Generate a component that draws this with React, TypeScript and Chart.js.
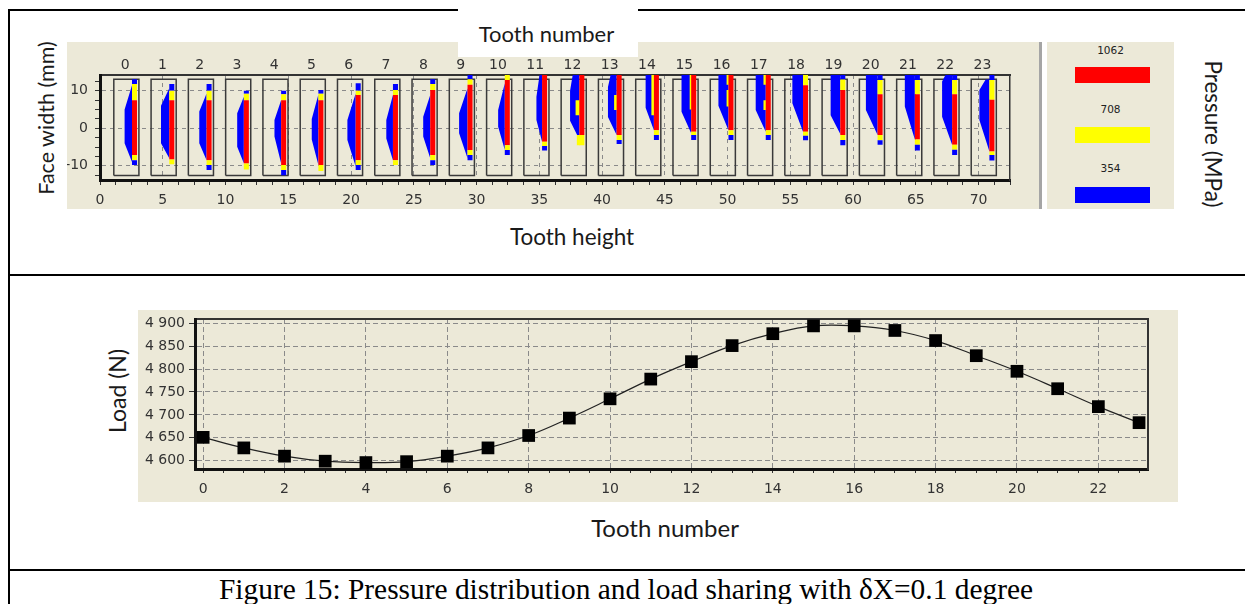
import React, { useEffect, useRef } from "react";
import { Chart, registerables } from "chart.js";

Chart.register(...registerables);

// ---------------- data ----------------
const TOOTH_NUMBERS = [0, 1, 2, 3, 4, 5, 6, 7, 8, 9, 10, 11, 12, 13, 14, 15, 16, 17, 18, 19, 20, 21, 22, 23];

// load sharing (N) per tooth
const LOAD_N = [4651, 4628, 4610, 4599, 4596, 4598, 4610, 4628, 4655, 4693, 4735, 4778, 4816, 4851, 4877, 4894, 4894, 4884, 4862, 4829, 4795, 4757, 4718, 4683];

// axis tick labels
const TOOTH_HEIGHT_LABELS = [0, 5, 10, 15, 20, 25, 30, 35, 40, 45, 50, 55, 60, 65, 70];
const TOOTH_HEIGHT_MINOR = 1.25;
const FACE_WIDTH_LABELS = [-10, 0, 10];
const FACE_WIDTH_MINOR = 2.5;
const LOAD_LABELS = [4600, 4650, 4700, 4750, 4800, 4850, 4900];
const TOOTH_AXIS_LABELS = [0, 2, 4, 6, 8, 10, 12, 14, 16, 18, 20, 22];
const TOOTH_AXIS_MINOR = 0.5;

// pressure legend levels (MPa)
const PRESSURE_LEVELS = [1062, 708, 354];

// contact strip per tooth (face width, mm): blue cap / yellow / red / yellow / blue cap
const CAP_TOP = [13.1, 11.8, 11.8, 10.0, 10.0, 10.2, 12.0, 11.8, 13.1, 14.2, 14.2, 14.2, 14.2, 14.2, 14.2, 14.2, 14.2, 14.2, 14.2, 14.2, 14.2, 14.2, 14.2, 14.2];
const YEL_TOP = [11.8, 10.0, 10.0, 9.2, 9.1, 9.2, 10.0, 10.2, 11.8, 13.1, 14.2, 14.2, 14.2, 14.2, 14.2, 14.2, 14.2, 14.2, 14.2, 13.0, 12.9, 12.9, 12.9, 12.9];
const RED_TOP = [7.5, 7.5, 7.5, 7.5, 7.5, 7.5, 8.9, 8.9, 10.2, 11.6, 12.9, 14.2, 14.2, 14.2, 14.2, 14.2, 14.2, 14.2, 11.5, 10.2, 9.1, 9.1, 9.1, 7.6];
const RED_BOT = [-7.1, -8.3, -8.5, -9.4, -9.8, -9.8, -8.5, -8.5, -7.1, -5.8, -4.5, -3.6, -1.8, -1.8, -0.5, -0.9, -0.5, -0.5, -0.9, -1.8, -1.8, -3.0, -4.4, -6.2];
const YEL_BOT = [-8.5, -9.6, -9.8, -11.0, -11.1, -11.4, -9.8, -9.8, -8.5, -7.1, -5.8, -4.7, -4.5, -3.1, -1.8, -1.8, -1.8, -1.8, -2.0, -3.1, -3.2, -4.4, -5.7, -7.1];
const CAP_BOT = [-9.8, -9.6, -11.1, -11.0, -12.5, -11.4, -11.1, -9.8, -9.8, -8.5, -7.1, -5.9, -4.5, -4.2, -3.1, -3.1, -3.1, -3.1, -3.2, -4.5, -4.4, -5.9, -7.1, -8.6];

// low-pressure (blue) zone left of the strip, per tooth
const LENS_TOP = [11.5, 10.7, 9.3, 8.4, 7.5, 9.0, 9.3, 8.9, 8.9, 10.7, 12.0, 14.2, 14.2, 14.2, 14.2, 14.2, 14.2, 14.2, 14.2, 14.2, 14.2, 14.2, 14.2, 13.0];
const LENS_TOP_W = [0, 0, 0, 0, 0, 0, 0, 0, 0, 0, 0, 0.2, 0.53, 0.48, 0.66, 0.77, 0.8, 0.8, 0.85, 0.77, 0.93, 0.8, 0.53, 0.3];
const LENS_MAX_TOP = [5, 6, 4.5, 4, 2.2, 2.5, 2.2, 2.2, 3.1, 4, 4.9, 8.4, 10, 11, 14.2, 14.2, 14.2, 14.2, 14.2, 14.2, 14.2, 14.2, 12.5, 10.2];
const LENS_MAX_BOT = [-4, -4, -4, -4.9, -2.2, -3, -3.1, -2.7, -2.2, -1.3, 0.4, 2.2, 2, 3, 5.5, 4.4, 6, 4.9, 6.7, 3.5, 4.9, 5.8, 3.1, 2.2];
const LENS_BOT = [-9, -8, -8.5, -9.3, -9.3, -9.8, -10.2, -8.5, -8, -8, -5.8, -3.6, -3, -1.8, -0.5, -1.3, -0.5, -0.9, -0.9, -1.5, -1.8, -3.0, -4.4, -6.2];
const LENS_W = [0.59, 0.66, 0.58, 0.53, 0.53, 0.53, 0.66, 0.53, 0.56, 0.67, 0.53, 0.45, 0.74, 0.69, 0.66, 0.77, 0.8, 0.8, 0.85, 0.77, 0.93, 0.8, 0.8, 0.8];

// extra yellow patches beside the strip
const MID_TOOTH = [12, 12, 13, 14, 15, 16, 16, 17, 17];
const MID_TOP = [7.5, -1.8, 8.9, 14.2, 14.2, 14.2, 10.2, 14.2, 7.5];
const MID_BOT = [3.5, -4.5, 4.9, 3.5, 5.0, 11.6, 5.8, 11.6, 4.9];
const MID_W = [0.3, 0.2, 0.2, 0.2, 0.12, 0.15, 0.15, 0.18, 0.18];

// ---------------- geometry / style ----------------
const PITCH = 2.97;
const BOX_X0 = 1.1;
const BOX_W = 2.0;
const BOX_TOP = 13.1;
const BOX_BOT = -12.6;
const STRIP_X0 = 2.55;
const STRIP_W = 0.4;
const LABEL_X0 = 2.0;

const BEIGE = "#ECE9D8";
const RED = "#FF0000";
const YELLOW = "#FFFF00";
const BLUE = "#0000FF";
const TICK_FONT = { family: "DejaVu Sans", size: 14 };
const TICK_COLOR = "#333";

function rect(x0: number, x1: number, y0: number, y1: number) {
  return [
    { x: x0, y: y0 },
    { x: x1, y: y0 },
    { x: x1, y: y1 },
    { x: x0, y: y1 },
    { x: x0, y: y0 },
  ];
}
function shape(points: any[], color: string) {
  return {
    data: points,
    showLine: true,
    fill: "shape",
    backgroundColor: color,
    borderColor: "rgba(0,0,0,0)",
    borderWidth: 0,
    pointRadius: 0,
    pointHoverRadius: 0,
    tension: 0,
    xAxisID: "x",
    yAxisID: "y",
  };
}
function outline(points: any[]) {
  return {
    data: points,
    showLine: true,
    fill: false,
    borderColor: "#3a3a3a",
    borderWidth: 1.5,
    pointRadius: 0,
    pointHoverRadius: 0,
    tension: 0,
    xAxisID: "x",
    yAxisID: "y",
  };
}
function stepTicks(min: number, max: number, step: number) {
  const out: any[] = [];
  const n = Math.round((max - min) / step);
  for (let k = 0; k <= n; k++) out.push({ value: +(min + k * step).toFixed(4) });
  return out;
}
const zeroPad = (s: any) => {
  s.paddingLeft = 0;
  s.paddingRight = 0;
  s.paddingTop = 0;
  s.paddingBottom = 0;
};

// ---------------- top panel: pressure map ----------------
function PressureMap() {
  const ref = useRef<HTMLCanvasElement>(null);
  useEffect(() => {
    const layers: any[] = [];
    TOOTH_NUMBERS.forEach((t) => {
      const bx = BOX_X0 + PITCH * t;
      layers.push(outline(rect(bx, bx + BOX_W, BOX_BOT, BOX_TOP)));
    });
    TOOTH_NUMBERS.forEach((t, i) => {
      const sL = STRIP_X0 + PITCH * t;
      layers.push(
        shape(
          [
            { x: sL, y: LENS_TOP[i] },
            { x: sL - LENS_TOP_W[i], y: LENS_TOP[i] },
            { x: sL - LENS_W[i], y: LENS_MAX_TOP[i] },
            { x: sL - LENS_W[i], y: LENS_MAX_BOT[i] },
            { x: sL, y: LENS_BOT[i] },
            { x: sL, y: LENS_TOP[i] },
          ],
          BLUE
        )
      );
    });
    MID_TOOTH.forEach((t, k) => {
      const sL = STRIP_X0 + PITCH * t;
      layers.push(shape(rect(sL - MID_W[k], sL + 0.05, MID_BOT[k], MID_TOP[k]), YELLOW));
    });
    TOOTH_NUMBERS.forEach((t, i) => {
      const sL = STRIP_X0 + PITCH * t;
      const sR = sL + STRIP_W;
      const segs: [number, number, string][] = [
        [YEL_TOP[i], CAP_TOP[i], BLUE],
        [RED_TOP[i], YEL_TOP[i], YELLOW],
        [RED_BOT[i], RED_TOP[i], RED],
        [YEL_BOT[i], RED_BOT[i], YELLOW],
        [CAP_BOT[i], YEL_BOT[i], BLUE],
      ];
      segs.forEach(([b, tp, c]) => {
        if (tp - b > 0.01) layers.push(shape(rect(sL, sR, b, tp), c));
      });
    });
    const datasets = layers.reverse();

    const xMax = 72.5;
    const chart = new Chart(ref.current as HTMLCanvasElement, {
      type: "scatter",
      data: { datasets },
      options: {
        animation: false,
        responsive: false,
        maintainAspectRatio: false,
        events: [],
        layout: { padding: 0 },
        plugins: { legend: { display: false }, tooltip: { enabled: false } },
        scales: {
          x: {
            type: "linear",
            position: "bottom",
            min: 0,
            max: xMax,
            afterBuildTicks: (s: any) => {
              s.ticks = stepTicks(0, xMax, TOOTH_HEIGHT_MINOR);
            },
            afterFit: (s: any) => {
              s.height = 29;
              zeroPad(s);
            },
            ticks: {
              autoSkip: false,
              maxRotation: 0,
              padding: 7,
              font: TICK_FONT,
              color: TICK_COLOR,
              callback: (v: any) => (TOOTH_HEIGHT_LABELS.includes(Number(v)) ? String(v) : ""),
            },
            grid: {
              color: (c: any) => (c.tick && TOOTH_HEIGHT_LABELS.includes(c.tick.value) && c.tick.value > 0 ? "#8a8a8a" : "rgba(0,0,0,0)"),
              tickColor: "#333",
              tickLength: 5,
              lineWidth: 1,
            },
            border: { color: "#111", width: 3, dash: [4, 4] },
          },
          x2: {
            type: "linear",
            position: "top",
            min: -LABEL_X0 / PITCH,
            max: (xMax - LABEL_X0) / PITCH,
            afterBuildTicks: (s: any) => {
              s.ticks = TOOTH_NUMBERS.map((v) => ({ value: v }));
            },
            afterFit: (s: any) => {
              s.height = 33;
              zeroPad(s);
            },
            ticks: { autoSkip: false, maxRotation: 0, padding: 1, font: TICK_FONT, color: TICK_COLOR },
            grid: { drawOnChartArea: false, drawTicks: false },
            border: { color: "#333", width: 2 },
          },
          y: {
            type: "linear",
            position: "left",
            min: -13.8,
            max: 14.2,
            afterBuildTicks: (s: any) => {
              s.ticks = stepTicks(-12.5, 12.5, FACE_WIDTH_MINOR);
            },
            afterFit: (s: any) => {
              s.width = 33;
              zeroPad(s);
            },
            ticks: {
              autoSkip: false,
              padding: 7,
              font: TICK_FONT,
              color: TICK_COLOR,
              callback: (v: any) => (FACE_WIDTH_LABELS.includes(Number(v)) ? String(v) : ""),
            },
            grid: {
              color: (c: any) => (c.tick && FACE_WIDTH_LABELS.includes(c.tick.value) ? "#8a8a8a" : "rgba(0,0,0,0)"),
              tickColor: "#333",
              tickLength: 5,
              lineWidth: 1,
            },
            border: { color: "#111", width: 3, dash: [4, 4] },
          },
          y2: {
            type: "linear",
            position: "right",
            afterFit: (s: any) => {
              s.width = 30;
              zeroPad(s);
            },
            ticks: { display: false },
            grid: { drawOnChartArea: false, drawTicks: false },
            border: { color: "#333", width: 1.5 },
          },
        },
      } as any,
    });
    return () => chart.destroy();
  }, []);
  return <canvas ref={ref} width={973} height={167} style={{ display: "block" }} />;
}

// ---------------- bottom panel: load sharing ----------------
function LoadChart() {
  const ref = useRef<HTMLCanvasElement>(null);
  useEffect(() => {
    const chart = new Chart(ref.current as HTMLCanvasElement, {
      type: "scatter",
      data: {
        datasets: [
          {
            data: TOOTH_NUMBERS.map((t, i) => ({ x: t, y: LOAD_N[i] })),
            showLine: true,
            borderColor: "#222",
            borderWidth: 1.2,
            tension: 0.4,
            pointStyle: "rect",
            pointRadius: 9,
            pointHoverRadius: 9,
            pointBackgroundColor: "#000",
            pointBorderColor: "#000",
            pointBorderWidth: 0,
            xAxisID: "x",
            yAxisID: "y",
          },
        ],
      },
      options: {
        animation: false,
        responsive: false,
        maintainAspectRatio: false,
        events: [],
        layout: { padding: 0 },
        plugins: { legend: { display: false }, tooltip: { enabled: false } },
        scales: {
          x: {
            type: "linear",
            position: "bottom",
            min: -0.2,
            max: 23.22,
            afterBuildTicks: (s: any) => {
              s.ticks = stepTicks(0, 23, TOOTH_AXIS_MINOR);
            },
            afterFit: (s: any) => {
              s.height = 33;
              zeroPad(s);
            },
            ticks: {
              autoSkip: false,
              maxRotation: 0,
              padding: 8,
              font: TICK_FONT,
              color: TICK_COLOR,
              callback: (v: any) => (TOOTH_AXIS_LABELS.includes(Number(v)) ? String(v) : ""),
            },
            grid: {
              color: (c: any) => (c.tick && TOOTH_AXIS_LABELS.includes(c.tick.value) ? "#8a8a8a" : "rgba(0,0,0,0)"),
              tickColor: "#333",
              tickLength: 4,
              lineWidth: 1,
            },
            border: { color: "#111", width: 3, dash: [5, 3] },
          },
          x2: {
            type: "linear",
            position: "top",
            afterFit: (s: any) => {
              s.height = 5;
              zeroPad(s);
            },
            ticks: { display: false },
            grid: { drawOnChartArea: false, drawTicks: false },
            border: { color: "#333", width: 2 },
          },
          y: {
            type: "linear",
            position: "left",
            min: 4582,
            max: 4909,
            afterBuildTicks: (s: any) => {
              s.ticks = LOAD_LABELS.map((v) => ({ value: v }));
            },
            afterFit: (s: any) => {
              s.width = 57;
              zeroPad(s);
            },
            ticks: {
              autoSkip: false,
              padding: 4,
              font: TICK_FONT,
              color: TICK_COLOR,
              callback: (v: any) => {
                const n = Number(v);
                return `${Math.floor(n / 1000)} ${String(n % 1000).padStart(3, "0")}`;
              },
            },
            grid: { color: "#8a8a8a", tickColor: "#333", tickLength: 6, lineWidth: 1 },
            border: { color: "#111", width: 3, dash: [5, 3] },
          },
          y2: {
            type: "linear",
            position: "right",
            afterFit: (s: any) => {
              s.width = 30;
              zeroPad(s);
            },
            ticks: { display: false },
            grid: { drawOnChartArea: false, drawTicks: false },
            border: { color: "#333", width: 2 },
          },
        },
      } as any,
    });
    return () => chart.destroy();
  }, []);
  return <canvas ref={ref} width={1040} height={192} style={{ display: "block" }} />;
}

// ---------------- page ----------------
function Label(props: { x: number; y: number; rot?: number; size: number; family?: string; color?: string; children: any }) {
  const { x, y, rot = 0, size, family = "Lato", color = "#1a1a1a", children } = props;
  return (
    <div
      style={{
        position: "absolute",
        left: x,
        top: y,
        transform: `translate(-50%, -50%) rotate(${rot}deg)`,
        fontFamily: family,
        fontSize: size,
        lineHeight: 1,
        whiteSpace: "nowrap",
        color,
      }}
    >
      {children}
    </div>
  );
}

const SWATCH_COLORS = [RED, YELLOW, BLUE];

export default function App() {
  const abs = (l: number, t: number, w: number, h: number, bg: string): any => ({
    position: "absolute",
    left: l,
    top: t,
    width: w,
    height: h,
    background: bg,
  });
  return (
    <div style={{ position: "absolute", left: 0, top: 0, width: 1245, height: 604, background: "#fff", overflow: "hidden" }}>
      {/* table rules */}
      <div style={abs(8, 9, 1237, 2, "#000")} />
      <div style={abs(8, 9, 2, 595, "#000")} />
      <div style={abs(8, 274, 1237, 2, "#000")} />
      <div style={abs(8, 569, 1237, 2, "#000")} />

      {/* top panel */}
      <div style={abs(67, 42, 973, 167, BEIGE)}>
        <PressureMap />
      </div>
      <div style={abs(1039, 42, 3, 167, "#A5A5A5")} />
      <div style={abs(1047, 42, 127, 167, BEIGE)}>
        {PRESSURE_LEVELS.map((p, k) => (
          <React.Fragment key={p}>
            <div
              style={{
                position: "absolute",
                left: 0,
                width: 127,
                top: 2 + k * 59,
                textAlign: "center",
                fontFamily: "DejaVu Sans",
                fontSize: 10.5,
                lineHeight: "12px",
                color: "#222",
              }}
            >
              {p}
            </div>
            <div style={abs(28, 25 + k * 60, 75, 16, SWATCH_COLORS[k])} />
          </React.Fragment>
        ))}
      </div>
      <div style={abs(458, 8, 180, 49, "#fff")} />
      <Label x={546.5} y={33.5} size={22}>Tooth number</Label>
      <Label x={47} y={117.5} size={21.5} rot={-90}>Face width (mm)</Label>
      <Label x={572} y={237} size={22.5}>Tooth height</Label>
      <Label x={1213} y={134} size={22.5} rot={90}>Pressure (MPa)</Label>

      {/* bottom panel */}
      <div style={abs(138, 310, 1040, 192, BEIGE)}>
        <LoadChart />
      </div>
      <Label x={117} y={391} size={23} rot={-90}>Load (N)</Label>
      <Label x={665} y={528} size={24}>Tooth number</Label>

      {/* caption */}
      <Label x={626} y={590} size={29.4} family="'Liberation Serif', 'Times New Roman', serif" color="#000">
        Figure 15: Pressure distribution and load sharing with δX=0.1 degree
      </Label>
    </div>
  );
}
